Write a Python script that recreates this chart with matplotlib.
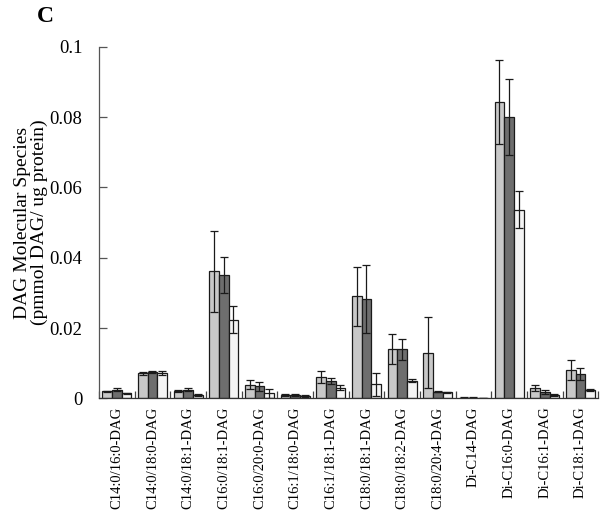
import matplotlib
matplotlib.use("Agg")
import matplotlib.pyplot as plt
import numpy as np

categories = ["C14:0/16:0-DAG", "C14:0/18:0-DAG", "C14:0/18:1-DAG", "C16:0/18:1-DAG",
              "C16:0/20:0-DAG", "C16:1/18:0-DAG", "C16:1/18:1-DAG", "C18:0/18:1-DAG",
              "C18:0/18:2-DAG", "C18:0/20:4-DAG", "Di-C14-DAG", "Di-C16:0-DAG",
              "Di-C16:1-DAG", "Di-C18:1-DAG"]

light_vals = [0.0020, 0.0071, 0.0021, 0.0361, 0.0039, 0.0009, 0.0061, 0.0290, 0.0141, 0.0130, 0.0002, 0.0843, 0.0029, 0.0080]
light_err  = [0.0002, 0.0004, 0.0004, 0.0116, 0.0013, 0.0002, 0.0017, 0.0084, 0.0042, 0.0100, 0.0001, 0.0120, 0.0008, 0.0029]
dark_vals  = [0.0025, 0.0074, 0.0024, 0.0351, 0.0034, 0.0009, 0.0049, 0.0283, 0.0139, 0.0019, 0.0002, 0.0800, 0.0018, 0.0069]
dark_err   = [0.0003, 0.0003, 0.0004, 0.0052, 0.0012, 0.0002, 0.0008, 0.0096, 0.0030, 0.0002, 0.0001, 0.0107, 0.0006, 0.0017]
white_vals = [0.0014, 0.0072, 0.0009, 0.0224, 0.0014, 0.0007, 0.0030, 0.0040, 0.0050, 0.0017, 0.0001, 0.0537, 0.0010, 0.0024]
white_err  = [0.0002, 0.0005, 0.0002, 0.0038, 0.0013, 0.0002, 0.0007, 0.0033, 0.0004, 0.0002, 0.0001, 0.0053, 0.0002, 0.0002]

y_ticks = [0, 0.02, 0.04, 0.06, 0.08, 0.1]
y_ticklabels = ["0", "0.02", "0.04", "0.06", "0.08", "0.1"]

serif = ["Liberation Serif", "DejaVu Serif"]

fig = plt.figure(figsize=(6, 5.2), dpi=100)
ax = fig.add_axes([0.165, 0.234, 0.832, 0.676])

x = np.arange(len(categories))
w = 0.272
series = [(light_vals, light_err, "#c8c8c8"),
          (dark_vals, dark_err, "#6e6e6e"),
          (white_vals, white_err, "#f4f4f4")]
for i, (v, e, c) in enumerate(series):
    ax.bar(x + (i - 1) * w, v, width=w, color=c, edgecolor="#1a1a1a", linewidth=0.9,
           yerr=e, error_kw=dict(ecolor="#1a1a1a", elinewidth=0.9, capsize=3, capthick=0.9),
           zorder=2)

ax.set_xlim(-0.5, len(categories) - 0.5)
ax.set_ylim(0, 0.1)
ax.set_yticks(y_ticks)
ax.set_yticklabels(y_ticklabels, fontfamily=serif, fontsize=13.5)
ax.set_xticks(x)
ax.set_xticklabels(categories, rotation=90, fontfamily=serif, fontsize=10.5, va="top", ha="center")
ax.set_xticks(np.arange(len(categories) + 1) - 0.5, minor=True)
ax.tick_params(axis="x", which="major", length=0, pad=6)
ax.tick_params(axis="x", which="minor", direction="in", length=5, width=0.9, color="#444444")
ax.tick_params(axis="y", direction="in", length=6, width=0.9, color="#555555", pad=12)

for s in ["top", "right"]:
    ax.spines[s].set_visible(False)
ax.spines["left"].set_color("#555555")
ax.spines["left"].set_linewidth(0.9)
ax.spines["bottom"].set_color("#333333")
ax.spines["bottom"].set_linewidth(0.9)

ax.set_ylabel("DAG Molecular Species\n(pmmol DAG/ ug protein)", fontfamily=serif,
              fontsize=14, linespacing=1.0)
ax.yaxis.set_label_coords(-0.102, 0.5)

fig.text(0.062, 0.968, "C", fontfamily=serif, fontsize=17, fontweight="bold", va="center", ha="left")

fig.savefig("out.png", dpi=100)
